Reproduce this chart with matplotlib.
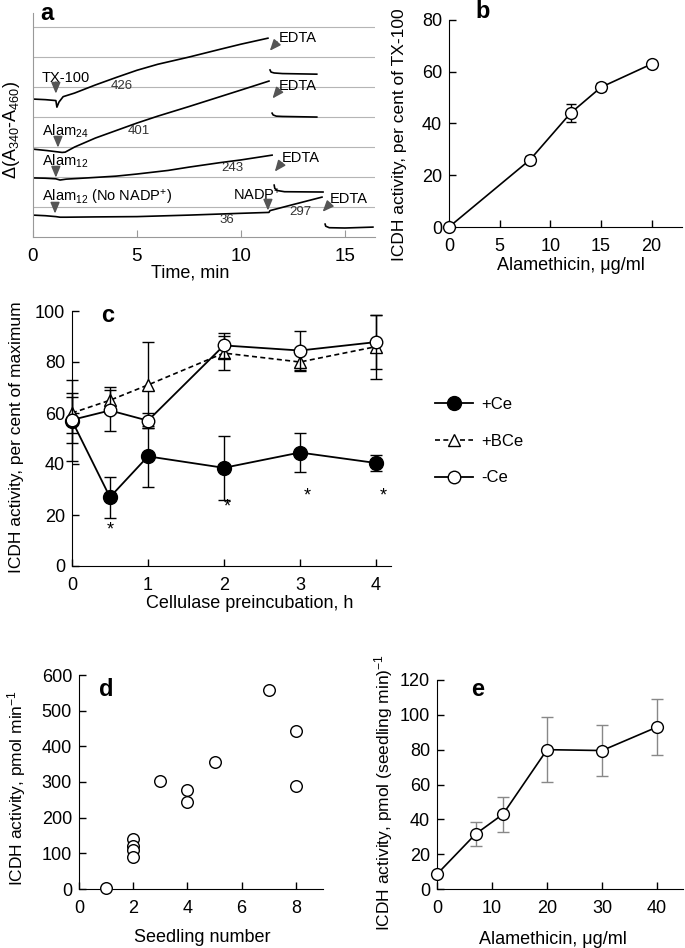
import numpy as np
import matplotlib
matplotlib.use('Agg')
import matplotlib.pyplot as plt
from matplotlib.lines import Line2D

plt.rcParams['font.family'] = ['Liberation Sans', 'DejaVu Sans']
plt.rcParams['font.size'] = 12.5
plt.rcParams['mathtext.fontset'] = 'custom'
plt.rcParams['mathtext.rm'] = 'Liberation Sans'
plt.rcParams['mathtext.it'] = 'Liberation Sans:italic'
plt.rcParams['mathtext.bf'] = 'Liberation Sans:bold'
plt.rcParams['mathtext.default'] = 'regular'

W, H = 685, 948

# ---- panel a: absorbance traces (time, min ; offset units) ----
tx_t = [0, 0.6, 1.1, 1.15, 1.25, 1.45, 2.0, 3.0, 4.0, 5.0, 6.0, 7.5, 9.0, 10.0, 11.3]
tx_v = [4.6, 4.58, 4.55, 4.33, 4.5, 4.68, 4.8, 5.07, 5.32, 5.56, 5.76, 6.0, 6.26, 6.43, 6.63]
tx_post_t = [11.4, 11.45, 11.6, 12.0, 13.65]
tx_post_v = [5.57, 5.5, 5.47, 5.45, 5.43]

a24_t = [0, 0.7, 1.4, 1.55, 2.0, 3.0, 4.0, 5.0, 6.0, 7.5, 9.0, 10.0, 11.35]
a24_v = [2.93, 2.88, 2.82, 2.83, 3.0, 3.3, 3.55, 3.8, 4.03, 4.35, 4.68, 4.9, 5.2]
a24_post_t = [11.5, 11.55, 11.7, 12.0, 13.65]
a24_post_v = [4.13, 4.07, 4.03, 4.02, 4.0]

a12_t = [0, 0.6, 1.1, 1.3, 1.6, 2.6, 4.0, 5.0, 6.5, 7.5, 9.0, 10.0, 11.5]
a12_v = [1.97, 1.96, 1.94, 1.9, 1.93, 1.97, 2.03, 2.1, 2.22, 2.33, 2.48, 2.57, 2.73]
a12_post_t = [11.6, 11.63, 11.75, 12.1, 13.95]
a12_post_v = [1.73, 1.62, 1.55, 1.51, 1.5]

nn_t = [0, 0.6, 1.1, 1.3, 1.6, 3.0, 5.0, 7.5, 10.0, 11.35, 11.4, 12.5, 13.9]
nn_v = [0.73, 0.71, 0.68, 0.66, 0.66, 0.67, 0.68, 0.73, 0.79, 0.82, 0.88, 1.08, 1.33]
nn_post_t = [14.05, 14.08, 14.25, 15.0, 16.35]
nn_post_v = [0.43, 0.36, 0.31, 0.3, 0.33]

# ---- panel b ----
b_x = [0, 8, 12, 15, 20]
b_y = [0, 26, 44, 54, 63]
b_err = [0.5, 1.5, 3.5, 1.5, 1.0]

# ---- panel c ----
c_x = [0, 0.5, 1, 2, 3, 4]
ce_y = [57, 27, 43, 38.5, 44.5, 40.4]
ce_err = [16, 8, 12, 12.5, 7.5, 3]
bce_y = [60, 65, 71, 83.5, 80, 86]
bce_err = [8, 5, 17, 6.5, 3.5, 12.5]
nce_y = [57.3, 61, 57, 86.5, 84.5, 87.8]
nce_err = [9, 8, 3, 5, 7.5, 10.5]
star_x = [0.5, 2.05, 3.1, 4.1]
star_y = [14, 23, 27.5, 27.5]

# ---- panel d ----
d_x = [1, 2, 2, 2, 2, 3, 4, 4, 5, 7, 8, 8]
d_y = [4, 140, 120, 110, 91, 304, 277, 243, 355, 557, 442, 289]

# ---- panel e ----
e_x = [0, 7, 12, 20, 30, 40]
e_y = [8.5, 31.5, 43, 80, 79.5, 93]
e_err = [0, 7, 10, 18.5, 14.5, 16]


def box(l, t, r, b):
    return [l / W, 1 - b / H, (r - l) / W, (b - t) / H]


def style(ax):
    for s in ['top', 'right']:
        ax.spines[s].set_visible(False)
    ax.tick_params(direction='in', length=5, width=1, labelsize=13)
    ax.tick_params(axis='x', pad=8)
    ax.tick_params(axis='y', pad=5)


fig = plt.figure(figsize=(W / 100, H / 100), dpi=100)

# ================= a =================
ax = fig.add_axes(box(33, 13, 375, 237))
for g in range(1, 8):
    ax.axhline(g, color='#b5b5b5', lw=0.8, zorder=0)
for t, v in [(tx_t, tx_v), (tx_post_t, tx_post_v), (a24_t, a24_v), (a24_post_t, a24_post_v),
             (a12_t, a12_v), (a12_post_t, a12_post_v), (nn_t, nn_v), (nn_post_t, nn_post_v)]:
    ax.plot(t, v, color='black', lw=1.2)
ax.set_xlim(0, 16.45)
ax.set_ylim(0, 7.47)
ax.set_yticks([])
ax.set_xticks([0, 5, 10, 15])
for s in ['top', 'right']:
    ax.spines[s].set_visible(False)
ax.spines['left'].set_color('#999999')
ax.spines['bottom'].set_color('#999999')
ax.tick_params(axis='x', direction='in', length=5, color='#999999', labelsize=13.5, pad=8)

arr = dict(arrowstyle='-|>,head_length=0.6,head_width=0.25', mutation_scale=11,
           color='#555555', lw=1.1, shrinkA=0, shrinkB=0)
fs = 10.5
ax.text(0.42, 5.29, 'TX-100', fontsize=fs, va='center')
ax.annotate('', xy=(1.1, 4.78), xytext=(1.1, 5.17), arrowprops=arr)
ax.text(4.26, 5.03, '426', fontsize=9.5, va='center', ha='center', color='#333333')
ax.text(11.8, 6.62, 'EDTA', fontsize=fs, va='center')
ax.annotate('', xy=(11.39, 6.21), xytext=(11.75, 6.5), arrowprops=arr)

ax.text(0.42, 3.53, 'Alam$_{24}$', fontsize=fs, va='center')
ax.annotate('', xy=(1.2, 2.98), xytext=(1.2, 3.3), arrowprops=arr)
ax.text(5.11, 3.53, '401', fontsize=9.5, va='center', ha='center', color='#333333')
ax.text(11.84, 5.03, 'EDTA', fontsize=fs, va='center')
ax.annotate('', xy=(11.52, 4.62), xytext=(11.85, 4.9), arrowprops=arr)

ax.text(0.42, 2.53, 'Alam$_{12}$', fontsize=fs, va='center')
ax.annotate('', xy=(1.1, 1.98), xytext=(1.1, 2.32), arrowprops=arr)
ax.text(9.58, 2.29, '243', fontsize=9.5, va='center', ha='center', color='#333333')
ax.text(11.95, 2.62, 'EDTA', fontsize=fs, va='center')
ax.annotate('', xy=(11.63, 2.18), xytext=(11.97, 2.48), arrowprops=arr)

ax.text(0.42, 1.32, 'Alam$_{12}$ (No NADP$^{+}$)', fontsize=fs, va='center')
ax.annotate('', xy=(1.06, 0.78), xytext=(1.06, 1.1), arrowprops=arr)
ax.text(9.6, 1.4, 'NADP$^{+}$', fontsize=fs, va='center')
ax.annotate('', xy=(11.3, 0.88), xytext=(11.3, 1.23), arrowprops=arr)
ax.text(9.31, 0.57, '36', fontsize=9.5, va='center', ha='center', color='#333333')
ax.text(12.84, 0.84, '297', fontsize=9.5, va='center', ha='center', color='#333333')
ax.text(14.25, 1.26, 'EDTA', fontsize=fs, va='center')
ax.annotate('', xy=(13.93, 0.84), xytext=(14.3, 1.12), arrowprops=arr)

fig.text(12 / W, 1 - 130 / H, '\u0394(A$_{340}$-A$_{460}$)', rotation=90,
         ha='center', va='center', fontsize=13)
fig.text(190 / W, 1 - 273 / H, 'Time, min', ha='center', va='center', fontsize=13)
fig.text(47 / W, 1 - 14 / H, 'a', ha='center', va='center', fontsize=17, fontweight='bold')

# ================= b =================
ax = fig.add_axes(box(449, 20, 682, 227))
style(ax)
ax.errorbar(b_x, b_y, yerr=b_err, color='black', lw=1.2, elinewidth=1, capsize=3.5,
            marker='o', ms=8.5, mfc='white', mec='black', mew=1, clip_on=False, zorder=3)
ax.set_xlim(0, 23)
ax.set_ylim(0, 80)
ax.set_xticks([0, 5, 10, 15, 20])
ax.set_yticks([0, 20, 40, 60, 80])
fig.text(400 / W, 1 - 135 / H, 'ICDH activity, per cent of TX-100', rotation=90,
         ha='center', va='center', fontsize=12.5)
fig.text(571 / W, 1 - 266 / H, 'Alamethicin, \u03bcg/ml', ha='center', va='center', fontsize=13)
fig.text(483 / W, 1 - 12 / H, 'b', ha='center', va='center', fontsize=17, fontweight='bold')

# ================= c =================
ax = fig.add_axes(box(72, 311, 391, 566))
style(ax)
ax.errorbar(c_x, ce_y, yerr=ce_err, color='black', lw=1.3, elinewidth=1, capsize=4,
            marker='o', ms=10, mfc='black', mec='black', clip_on=False, zorder=3)
ax.errorbar(c_x, bce_y, yerr=bce_err, color='black', lw=1.2, ls=(0, (3, 2)), elinewidth=1,
            capsize=4, marker='^', ms=9, mfc='white', mec='black', mew=1, clip_on=False, zorder=4)
ax.errorbar(c_x, nce_y, yerr=nce_err, color='black', lw=1.3, elinewidth=1, capsize=4,
            marker='o', ms=9, mfc='white', mec='black', mew=1, clip_on=False, zorder=5)
for sx, sy in zip(star_x, star_y):
    ax.text(sx, sy, '*', ha='center', va='center', fontsize=13)
ax.set_xlim(0, 4.2)
ax.set_ylim(0, 100)
ax.set_xticks([0, 1, 2, 3, 4])
ax.set_yticks([0, 20, 40, 60, 80, 100])
fig.text(17 / W, 1 - 437 / H, 'ICDH activity, per cent of maximum', rotation=90,
         ha='center', va='center', fontsize=12.5)
fig.text(250 / W, 1 - 603 / H, 'Cellulase preincubation, h', ha='center', va='center', fontsize=13)
fig.text(108 / W, 1 - 315 / H, 'c', ha='center', va='center', fontsize=17, fontweight='bold')

handles = [
    Line2D([], [], color='black', lw=1.3, marker='o', ms=10, mfc='black', mec='black'),
    Line2D([], [], color='black', lw=1.2, ls=(0, (3, 2)), marker='^', ms=9, mfc='white', mec='black'),
    Line2D([], [], color='black', lw=1.3, marker='o', ms=9, mfc='white', mec='black'),
]
fig.legend(handles, ['+Ce', '+BCe', '-Ce'], loc='upper left', frameon=False,
           bbox_to_anchor=(420 / W, 1 - 382 / H), fontsize=12, handlelength=2.3,
           labelspacing=1.3, handletextpad=0.5)

# ================= d =================
ax = fig.add_axes(box(79, 675, 323, 889))
style(ax)
ax.scatter(d_x, d_y, s=70, facecolors='white', edgecolors='black', linewidths=1,
           clip_on=False, zorder=3)
ax.set_xlim(0, 9)
ax.set_ylim(0, 600)
ax.set_xticks([0, 2, 4, 6, 8])
ax.set_yticks(range(0, 601, 100))
fig.text(17 / W, 1 - 788 / H, 'ICDH activity, pmol min$^{-1}$', rotation=90,
         ha='center', va='center', fontsize=12.5)
fig.text(202 / W, 1 - 938 / H, 'Seedling number', ha='center', va='center', fontsize=13)
fig.text(106 / W, 1 - 690 / H, 'd', ha='center', va='center', fontsize=17, fontweight='bold')

# ================= e =================
ax = fig.add_axes(box(437, 680, 683, 889))
style(ax)
ax.errorbar(e_x, e_y, yerr=e_err, color='black', lw=1.2, ecolor='#888888', elinewidth=1,
            capsize=4, marker='o', ms=8.5, mfc='white', mec='black', mew=1,
            clip_on=False, zorder=3)
ax.set_xlim(0, 44.7)
ax.set_ylim(0, 120)
ax.set_xticks([0, 10, 20, 30, 40])
ax.set_yticks(range(0, 121, 20))
fig.text(384 / W, 1 - 792 / H, 'ICDH activity, pmol (seedling min)$^{-1}$', rotation=90,
         ha='center', va='center', fontsize=12.5)
fig.text(553 / W, 1 - 940 / H, 'Alamethicin, \u03bcg/ml', ha='center', va='center', fontsize=13)
fig.text(478 / W, 1 - 690 / H, 'e', ha='center', va='center', fontsize=17, fontweight='bold')

fig.savefig('out.png', dpi=100)
